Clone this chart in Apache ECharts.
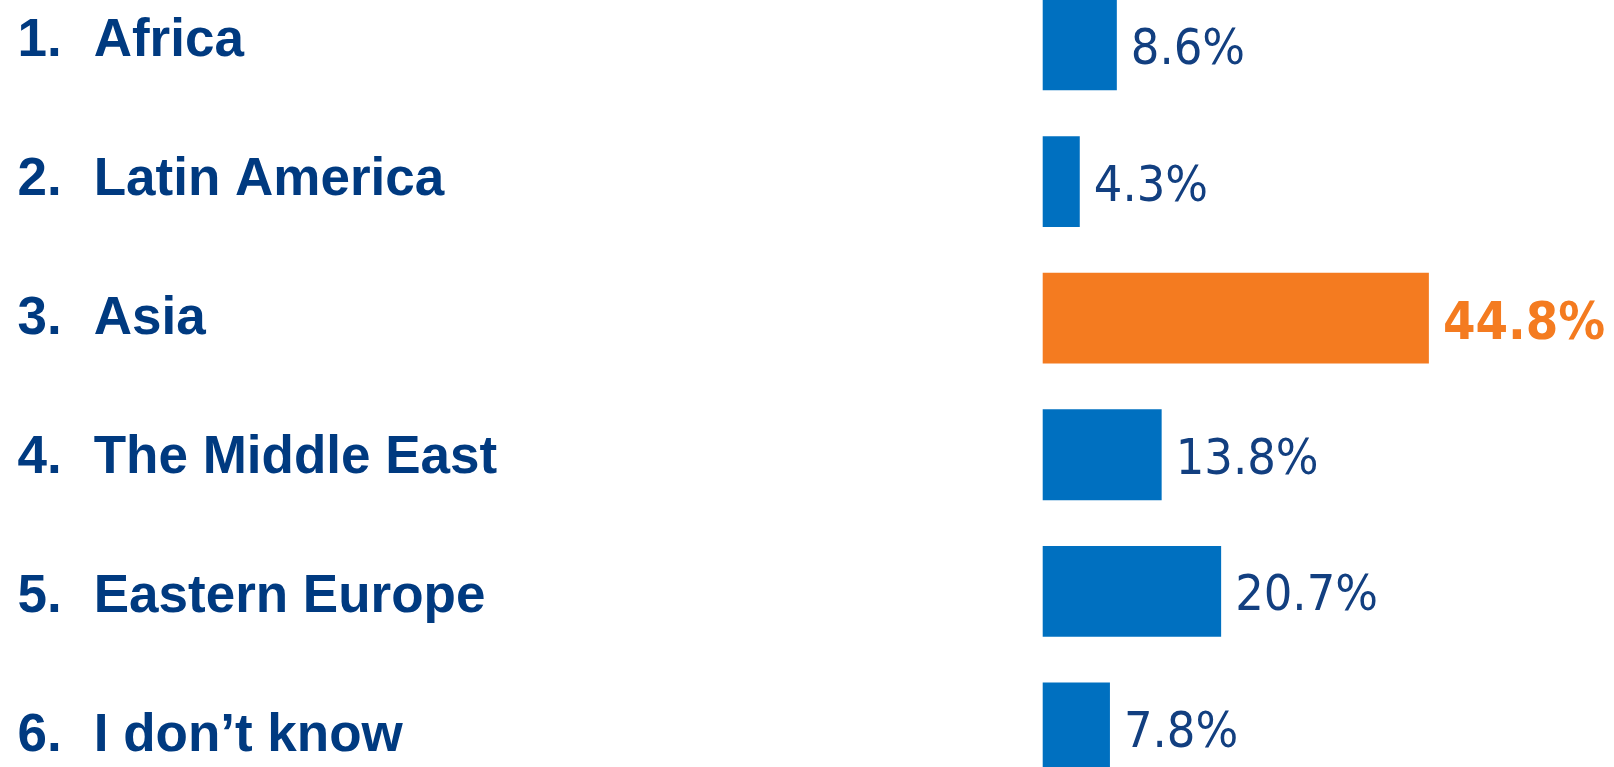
<!DOCTYPE html>
<html>
<head>
<meta charset="utf-8">
<script src="https://cdn.jsdelivr.net/npm/echarts@6/dist/echarts.min.js"></script>
<style>
html,body{margin:0;padding:0;background:#fff;}
#chart{width:1614px;height:767px;}
</style>
</head>
<body>
<div id="chart"></div>
<script>
const numbers = ['1.', '2.', '3.', '4.', '5.', '6.'];
const categories = ['Africa', 'Latin America', 'Asia', 'The Middle East', 'Eastern Europe', 'I don\u2019t know'];
const values = [8.6, 4.3, 44.8, 13.8, 20.7, 7.8];
const highlightIndex = 2;

const BLUE = '#0070C0';
const ORANGE = '#F47B20';
const NAVY = '#003A80';

const catLabels = categories.map((c, i) => numbers[i] + '|' + c);

const chart = echarts.init(document.getElementById('chart'));
chart.setOption({
  animation: false,
  backgroundColor: '#ffffff',
  grid: [
    { left: 1042.7, top: -23.35, width: 517.2, height: 819.6, outerBoundsMode: 'none', containLabel: false },
    { left: 1042.7, top: -28.5, width: 517.2, height: 834, outerBoundsMode: 'none', containLabel: false }
  ],
  xAxis: [
    { type: 'value', gridIndex: 0, min: 0, max: 60, show: false },
    { type: 'value', gridIndex: 1, min: 0, max: 60, show: false }
  ],
  yAxis: [
    { type: 'category', gridIndex: 0, inverse: true, data: catLabels, show: false },
    {
      type: 'category', gridIndex: 1, inverse: true, data: catLabels,
      axisLine: { show: false }, axisTick: { show: false }, splitLine: { show: false },
      axisLabel: {
        align: 'left',
        margin: 1042.7 - 17.5,
        formatter: function (v) {
          const p = v.split('|');
          return '{n|' + p[0] + '}{t|' + p[1] + '}';
        },
        rich: {
          n: { width: 76.2, fontFamily: 'Liberation Sans, Arial, sans-serif', fontWeight: 'bold', fontSize: 53, color: NAVY },
          t: { fontFamily: 'Liberation Sans, Arial, sans-serif', fontWeight: 'bold', fontSize: 53, color: NAVY }
        }
      }
    }
  ],
  series: [{
    type: 'bar',
    xAxisIndex: 0,
    yAxisIndex: 0,
    barWidth: 90.8,
    data: values.map((v, i) => {
      const hi = i === highlightIndex;
      return {
        value: v,
        itemStyle: { color: hi ? ORANGE : BLUE },
        label: hi ? {
          color: ORANGE, fontWeight: 'bold', fontSize: 52, offset: [0, 7]
        } : { offset: [0, 6] }
      };
    }),
    label: {
      show: true,
      position: 'right',
      distance: 14,
      fontFamily: '"DejaVu Sans Condensed", "DejaVu Sans", sans-serif',
      fontSize: 50,
      color: '#123F80',
      formatter: function (p) { return p.value.toFixed(1) + '%'; }
    }
  }]
});
</script>
</body>
</html>
